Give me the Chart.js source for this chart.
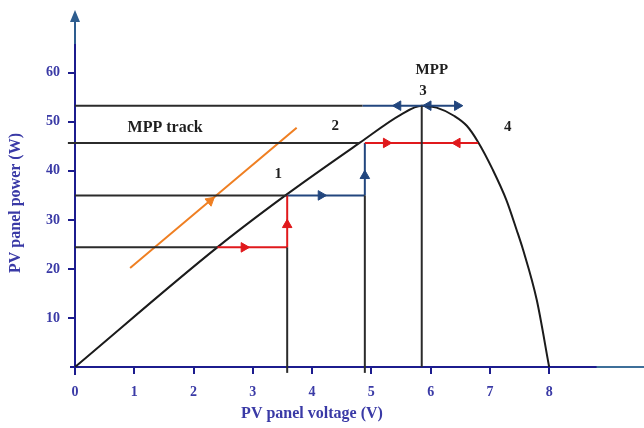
<!DOCTYPE html>
<html lang="en">
<head>
  <meta charset="UTF-8">
  <title>MPP track</title>
  <style>
    html, body { margin: 0; padding: 0; background: #fff; }
    #wrap { width: 644px; height: 428px; }
  </style>
</head>
<body>
  <div id="wrap"><canvas id="mpp-chart" width="644" height="428"></canvas></div>

  <script src="https://cdn.jsdelivr.net/npm/chart.js"></script>
  <script>
    // P-V curve of the panel
    var curveV = [0, 2.4, 3.55, 4.8, 5.5, 5.85, 6.1, 6.4, 6.61, 6.8, 7.05, 7.28, 7.45, 7.56, 7.79, 8.0];
    var curveP = [0, 24.4, 35, 45.7, 51.5, 53.3, 52.9, 51.2, 49.2, 45.9, 40.2, 34, 28, 23.9, 13.7, 0];

    // black guide lines (pairs of start/end)
    var guideV = [[0, 2.4], [0, 3.58], [-0.12, 4.8], [0, 4.85], [3.58, 3.58], [4.89, 4.89], [5.85, 5.85]];
    var guideP = [[24.4, 24.4], [35, 35], [45.7, 45.7], [53.3, 53.3], [-1.2, 24.4], [-1.2, 35], [0, 53.3]];

    // tracking steps
    var redV = [[2.4, 3.58], [3.58, 3.58], [4.89, 6.8]];
    var redP = [[24.4, 24.4], [24.4, 35], [45.7, 45.7]];
    var blueV = [[3.58, 4.89], [4.89, 4.89], [4.85, 6.5]];
    var blueP = [[35, 35], [35, 45.7], [53.3, 53.3]];

    // arrow heads (rotation in degrees, 0 = up)
    var redArrowV = [2.85, 3.58, 5.25, 6.45];
    var redArrowP = [24.4, 29, 45.7, 45.7];
    var redArrowDir = [90, 0, 90, -90];
    var blueArrowV = [4.15, 4.89, 5.45, 5.96, 6.45];
    var blueArrowP = [35, 39, 53.3, 53.3, 53.3];
    var blueArrowDir = [90, 0, -90, -90, 90];

    // orange "MPP track" direction line
    var trackV = [0.93, 3.74];
    var trackP = [20.2, 48.8];
    var trackArrowV = [2.28];
    var trackArrowP = [33.9];
    var trackArrowDir = [50];

    var labelText = ['MPP track', '1', '2', '3', 'MPP', '4'];
    var labelV = [1.52, 3.43, 4.39, 5.87, 6.02, 7.3];
    var labelP = [48.8, 39.4, 49.2, 56.3, 60.6, 49];

    var xTicks = [0, 1, 2, 3, 4, 5, 6, 7, 8];
    var yTicks = [10, 20, 30, 40, 50, 60];

    var AXIS = '#1c1c8e';
    var TXT = '#3a3aa6';
    var SERIF = "'Liberation Serif', 'DejaVu Serif', serif";

    function pts(xs, ys) {
      return xs.map(function (x, i) { return { x: x, y: ys[i] }; });
    }

    function seg(xs, ys, color) {
      return {
        data: pts(xs, ys),
        showLine: true,
        borderColor: color,
        borderWidth: 2,
        pointRadius: 0,
        clip: false
      };
    }

    function arrows(xs, ys, dirs, color) {
      return {
        data: pts(xs, ys),
        showLine: false,
        pointStyle: 'triangle',
        pointRadius: 5.5,
        pointRotation: dirs,
        backgroundColor: color,
        borderColor: color,
        borderWidth: 1
      };
    }

    var datasets = [];
    guideV.forEach(function (v, i) { datasets.push(seg(v, guideP[i], '#2b2b2b')); });
    redV.forEach(function (v, i) { datasets.push(seg(v, redP[i], '#e0191c')); });
    blueV.forEach(function (v, i) { datasets.push(seg(v, blueP[i], '#22467e')); });
    datasets.push(seg(trackV, trackP, '#ef7f22'));
    var curve = seg(curveV, curveP, '#1b1b1b');
    curve.cubicInterpolationMode = 'monotone';
    datasets.push(curve);
    datasets.push(arrows(redArrowV, redArrowP, redArrowDir, '#e0191c'));
    datasets.push(arrows(blueArrowV, blueArrowP, blueArrowDir, '#22467e'));
    datasets.push(arrows(trackArrowV, trackArrowP, trackArrowDir, '#ef7f22'));

    var decor = {
      id: 'decor',
      afterDraw: function (chart) {
        var ctx = chart.ctx;
        var xs = chart.scales.x, ys = chart.scales.y;
        var ax = xs.getPixelForValue(0);
        var ay = ys.getPixelForValue(0);
        var top = chart.chartArea.top;
        ctx.save();
        // y axis arrow head
        ctx.strokeStyle = '#2e5d8f';
        ctx.lineWidth = 2;
        ctx.beginPath();
        ctx.moveTo(ax, top + 30);
        ctx.lineTo(ax, top + 4);
        ctx.stroke();
        ctx.fillStyle = '#2e5d8f';
        ctx.beginPath();
        ctx.moveTo(ax, top - 4);
        ctx.lineTo(ax - 5, top + 8);
        ctx.lineTo(ax + 5, top + 8);
        ctx.closePath();
        ctx.fill();
        // axis lines running past the corner
        ctx.strokeStyle = AXIS;
        ctx.beginPath();
        ctx.moveTo(ax, ay);
        ctx.lineTo(ax, ay + 8);
        ctx.moveTo(ax - 5, ay);
        ctx.lineTo(ax, ay);
        ctx.stroke();
        ctx.strokeStyle = '#3d6f99';
        ctx.beginPath();
        ctx.moveTo(xs.getPixelForValue(8.8), ay);
        ctx.lineTo(chart.width, ay);
        ctx.stroke();

        // annotations
        ctx.fillStyle = '#1e1e1e';
        ctx.textAlign = 'center';
        ctx.textBaseline = 'middle';
        labelText.forEach(function (t, i) {
          ctx.font = 'bold ' + (i === 0 ? 16 : 15) + 'px ' + SERIF;
          ctx.fillText(t, xs.getPixelForValue(labelV[i]), ys.getPixelForValue(labelP[i]));
        });

        // axis titles
        ctx.fillStyle = TXT;
        ctx.font = 'bold 16px ' + SERIF;
        ctx.fillText('PV panel voltage (V)', 312, 414);
        ctx.translate(16, 203);
        ctx.rotate(-Math.PI / 2);
        ctx.fillText('PV panel power (W)', 0, 0);
        ctx.restore();
      }
    };

    function axisGrid() {
      return { drawOnChartArea: false, drawTicks: true, tickLength: 7, color: AXIS, lineWidth: 2 };
    }

    new Chart(document.getElementById('mpp-chart'), {
      type: 'scatter',
      data: { datasets: datasets },
      options: {
        responsive: false,
        animation: false,
        layout: { autoPadding: false, padding: { top: 14, right: 0, left: 0, bottom: 0 } },
        plugins: { legend: { display: false }, tooltip: { enabled: false } },
        scales: {
          x: {
            type: 'linear',
            min: 0,
            max: 9.6,
            grid: axisGrid(),
            border: { color: AXIS, width: 2 },
            afterBuildTicks: function (s) { s.ticks = xTicks.map(function (v) { return { value: v }; }); },
            afterFit: function (s) { s.height = 61; s.paddingLeft = 0; s.paddingRight = 0; },
            ticks: { padding: 10, color: TXT, font: { family: SERIF, size: 14, weight: 'bold' }, maxRotation: 0 }
          },
          y: {
            type: 'linear',
            min: 0,
            max: 72,
            grid: axisGrid(),
            border: { color: AXIS, width: 2 },
            afterBuildTicks: function (s) { s.ticks = yTicks.map(function (v) { return { value: v }; }); },
            afterFit: function (s) { s.width = 75; s.paddingTop = 0; s.paddingBottom = 0; },
            ticks: { padding: 8, color: TXT, font: { family: SERIF, size: 14, weight: 'bold' } }
          }
        }
      },
      plugins: [decor]
    });
  </script>
</body>
</html>
